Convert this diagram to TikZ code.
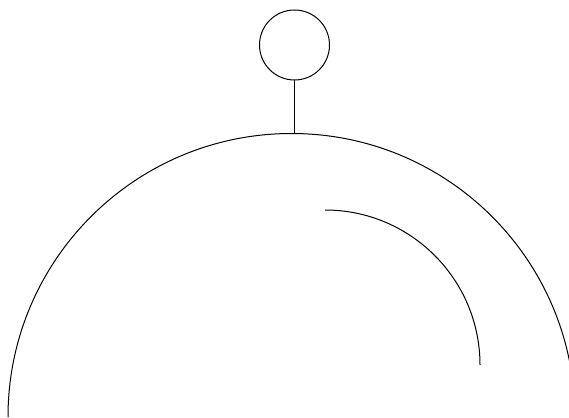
\documentclass[tikz,border=0pt]{standalone}
\begin{document}
\begin{tikzpicture}[x=1pt,y=-1pt,line width=1pt,
  knob/.style={circle,draw,minimum size=70pt,inner sep=0pt}]
\useasboundingbox (0,0) rectangle (569,417);
\clip (0,0) rectangle (569,417);
\node[knob] (knob) at (294.5,45) {};
\coordinate (top) at (294.5,133.5);
\draw (knob.south) -- (top);
% dome
\draw (8,417) arc[start angle=180,end angle=360,radius=283.5];
% highlight
\draw (325,210) arc[start angle=270,end angle=360,radius=155];
\end{tikzpicture}
\end{document}
